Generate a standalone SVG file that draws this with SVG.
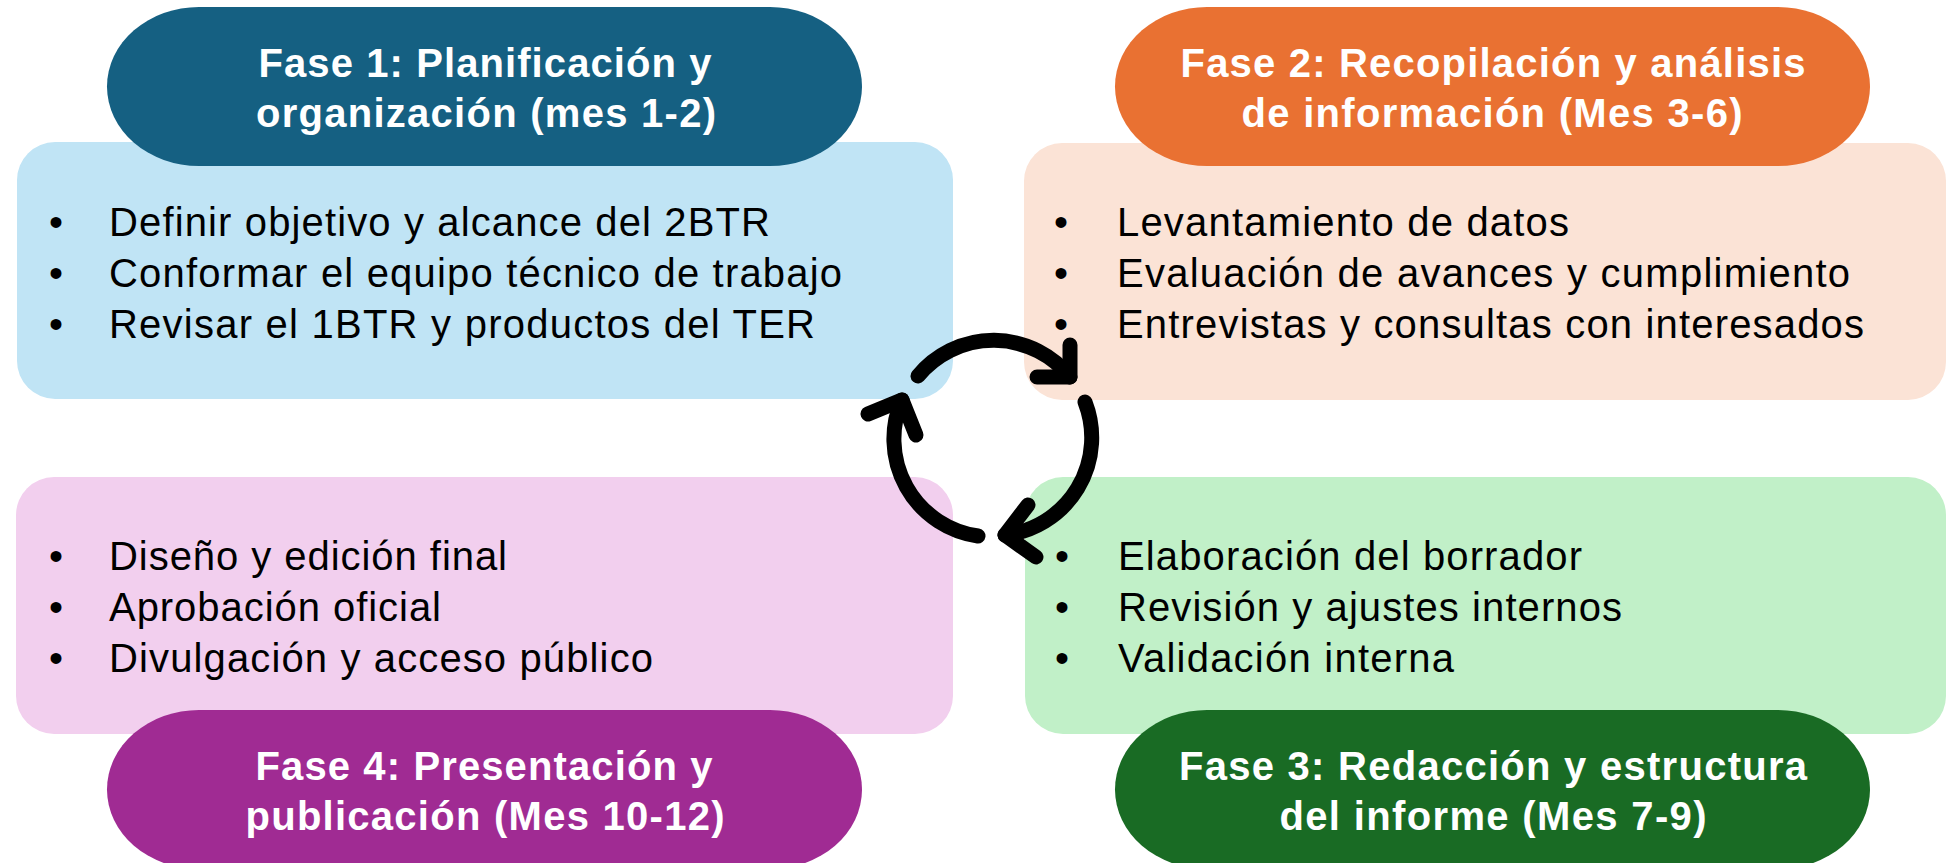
<svg xmlns="http://www.w3.org/2000/svg" width="1949" height="863" viewBox="0 0 1949 863">
<style>
.hd{font-family:"Liberation Sans",Arial,sans-serif;font-weight:bold;font-size:40px;fill:#fff;text-anchor:middle}
.tx{font-family:"Liberation Sans",Arial,sans-serif;font-size:40px;fill:#000}
.bu{font-family:"Liberation Sans",Arial,sans-serif;font-size:40px;fill:#000;text-anchor:middle}
.arc{fill:none;stroke:#000;stroke-width:15;stroke-linecap:round;stroke-linejoin:round}
</style>
<rect width="1949" height="863" fill="#fff"/>
<g id="fase1">
<rect x="17" y="142" width="936" height="257" rx="38" ry="38" fill="#C0E4F5"/>
<rect x="107" y="7" width="755" height="159" rx="92" ry="80" fill="#156082"/>
<text class="hd" x="485" y="77" textLength="453" lengthAdjust="spacing">Fase 1: Planificación y</text>
<text class="hd" x="486" y="127" textLength="460" lengthAdjust="spacing">organización (mes 1-2)</text>
<text class="bu" x="56" y="236">•</text>
<text class="bu" x="56" y="287">•</text>
<text class="bu" x="56" y="338">•</text>
<text class="tx" x="109" y="236" textLength="661" lengthAdjust="spacing">Definir objetivo y alcance del 2BTR</text>
<text class="tx" x="109" y="287" textLength="733" lengthAdjust="spacing">Conformar el equipo técnico de trabajo</text>
<text class="tx" x="109" y="338" textLength="706" lengthAdjust="spacing">Revisar el 1BTR y productos del TER</text>
</g>
<g id="fase2">
<rect x="1024" y="143" width="922" height="257" rx="38" ry="38" fill="#FBE3D6"/>
<rect x="1115" y="7" width="755" height="159" rx="92" ry="80" fill="#E97132"/>
<text class="hd" x="1493" y="77" textLength="625" lengthAdjust="spacing">Fase 2: Recopilación y análisis</text>
<text class="hd" x="1492" y="127" textLength="501" lengthAdjust="spacing">de información (Mes 3-6)</text>
<text class="bu" x="1061" y="236">•</text>
<text class="bu" x="1061" y="287">•</text>
<text class="bu" x="1061" y="338">•</text>
<text class="tx" x="1117" y="236" textLength="452" lengthAdjust="spacing">Levantamiento de datos</text>
<text class="tx" x="1117" y="287" textLength="733" lengthAdjust="spacing">Evaluación de avances y cumplimiento</text>
<text class="tx" x="1117" y="338" textLength="747" lengthAdjust="spacing">Entrevistas y consultas con interesados</text>
</g>
<g id="fase3">
<rect x="1025" y="477" width="921" height="257" rx="38" ry="38" fill="#C1F0C8"/>
<rect x="1115" y="710" width="755" height="159" rx="92" ry="80" fill="#196B24"/>
<text class="hd" x="1493" y="780" textLength="628" lengthAdjust="spacing">Fase 3: Redacción y estructura</text>
<text class="hd" x="1493" y="830" textLength="427" lengthAdjust="spacing">del informe (Mes 7-9)</text>
<text class="bu" x="1062" y="570">•</text>
<text class="bu" x="1062" y="621">•</text>
<text class="bu" x="1062" y="672">•</text>
<text class="tx" x="1118" y="570" textLength="464" lengthAdjust="spacing">Elaboración del borrador</text>
<text class="tx" x="1118" y="621" textLength="504" lengthAdjust="spacing">Revisión y ajustes internos</text>
<text class="tx" x="1118" y="672" textLength="336" lengthAdjust="spacing">Validación interna</text>
</g>
<g id="fase4">
<rect x="16" y="477" width="937" height="257" rx="38" ry="38" fill="#F2CFEE"/>
<rect x="107" y="710" width="755" height="159" rx="92" ry="80" fill="#A02B93"/>
<text class="hd" x="484" y="780" textLength="457" lengthAdjust="spacing">Fase 4: Presentación y</text>
<text class="hd" x="485" y="830" textLength="479" lengthAdjust="spacing">publicación (Mes 10-12)</text>
<text class="bu" x="56" y="570">•</text>
<text class="bu" x="56" y="621">•</text>
<text class="bu" x="56" y="672">•</text>
<text class="tx" x="109" y="570" textLength="398" lengthAdjust="spacing">Diseño y edición final</text>
<text class="tx" x="109" y="621" textLength="332" lengthAdjust="spacing">Aprobación oficial</text>
<text class="tx" x="109" y="672" textLength="544" lengthAdjust="spacing">Divulgación y acceso público</text>
</g>
<g id="connectors">
<path class="arc" d="M918,376 A98,98 0 0 1 1070,377"/>
<polyline class="arc" points="1070,345 1070,377 1037,377"/>
<path class="arc" d="M1085,402 A98,98 0 0 1 1005,535"/>
<polyline class="arc" points="1028,505 1005,535 1036,557"/>
<path class="arc" d="M978,536 A98,98 0 0 1 902,400"/>
<polyline class="arc" points="868,414 902,400 916,435"/>
</g>
</svg>
